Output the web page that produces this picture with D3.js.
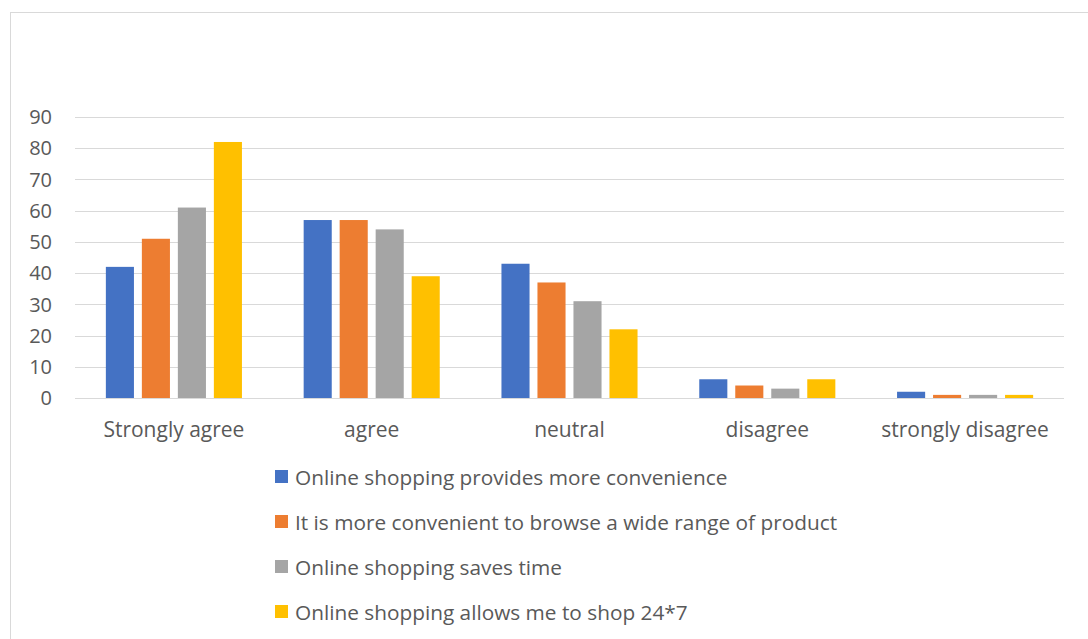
<!DOCTYPE html>
<html><head><meta charset="utf-8">
<script src="https://cdn.jsdelivr.net/npm/d3@7"></script>
<style>body{margin:0;background:#fff;} svg{display:block;font-family:"Open Sans",Lato,sans-serif;}</style>
</head><body>
<svg id="c" width="1088" height="639"></svg>
<script>
const categories = ["Strongly agree","agree","neutral","disagree","strongly disagree"];
const seriesNames = ["Online shopping provides more convenience","It is more convenient to browse a wide range of product","Online shopping saves time","Online shopping allows me to shop 24*7"];
const convenience = [42,57,43,6,2];
const browseRange = [51,57,37,4,1];
const savesTime = [61,54,31,3,1];
const shop247 = [82,39,22,6,1];
const yTicks = [0,10,20,30,40,50,60,70,80,90];
const colors = ["#4472C4","#ED7D31","#A5A5A5","#FFC000"];
const series = [convenience,browseRange,savesTime,shop247];

const svg = d3.select("#c");
svg.append("rect").attr("x",10.5).attr("y",12.5).attr("width",1090).attr("height",640)
  .attr("fill","#fff").attr("stroke","#d9d9d9").attr("stroke-width",1);

const x0 = d3.scaleBand().domain(categories).range([75,1064]).paddingInner(0).paddingOuter(0);
const y = d3.scaleLinear().domain([0,90]).range([398,117]);
const x1 = d3.scaleBand().domain(d3.range(4)).range([0,144]).paddingInner(0.22).paddingOuter(0.11);

svg.append("g").selectAll("line").data(yTicks).join("line")
  .attr("x1",75).attr("x2",1064).attr("y1",d=>Math.round(y(d))+0.5).attr("y2",d=>Math.round(y(d))+0.5)
  .attr("stroke","#d9d9d9").attr("stroke-width",1.2);

svg.append("g").selectAll("text").data(yTicks).join("text")
  .attr("x",52).attr("y",d=>y(d)).attr("dy","0.36em").attr("text-anchor","end")
  .attr("fill","#595959").attr("font-size",20).text(d=>d);

const groups = svg.append("g").selectAll("g").data(categories).join("g")
  .attr("transform",c=>`translate(${x0(c)+x0.bandwidth()/2-72},0)`);
groups.selectAll("rect").data((c,i)=>series.map((s,k)=>({k,v:s[i]}))).join("rect")
  .attr("x",d=>x1(d.k)).attr("width",x1.bandwidth())
  .attr("y",d=>y(d.v)).attr("height",d=>y(0)-y(d.v))
  .attr("fill",d=>colors[d.k]);

svg.append("g").selectAll("text").data(categories).join("text")
  .attr("x",c=>x0(c)+x0.bandwidth()/2).attr("y",437).attr("text-anchor","middle")
  .attr("fill","#595959").attr("font-size",21).text(c=>c);

const lg = svg.append("g").selectAll("g").data(seriesNames).join("g")
  .attr("transform",(d,i)=>`translate(275,${477+i*45})`);
lg.append("rect").attr("x",0).attr("y",-7).attr("width",13).attr("height",13).attr("fill",(d,i)=>colors[i]);
lg.append("text").attr("x",20).attr("y",0).attr("dy","0.36em").attr("fill","#595959").attr("font-size",20.8).text(d=>d);
</script>
</body></html>
